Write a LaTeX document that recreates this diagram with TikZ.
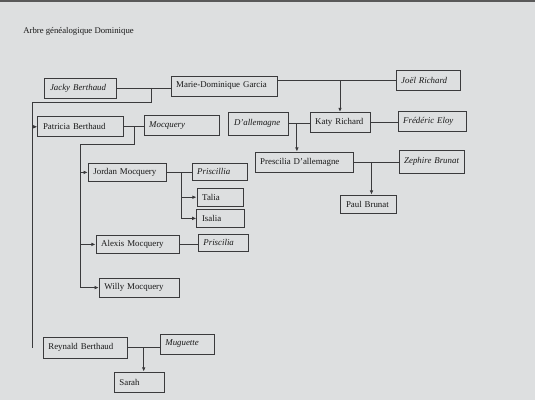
\documentclass[tikz,border=0pt]{standalone}
\usepackage{fontspec}
\setmainfont{Liberation Serif}
\usetikzlibrary{arrows.meta,calc}
\definecolor{paper}{RGB}{221,223,224}
\definecolor{ink}{RGB}{58,58,60}

\begin{document}
\begin{tikzpicture}[
    person/.style={draw=ink, line width=0.6pt, minimum height=0.5cm, inner xsep=0.13cm, inner ysep=0pt, text width=#1, align=left, font=\fontsize{6.3}{7.5}\selectfont, text=black!90},
    spouse/.style={person=#1, font=\fontsize{6.3}{7.5}\selectfont\itshape},
    link/.style={draw=ink, line width=0.6pt},
    arr/.style={link, -{Latex[length=3pt,width=2.6pt]}}
]
\useasboundingbox (0,0) rectangle (13.375,-10);
\fill[paper] (0,0) rectangle (13.375,-10);
\fill[black!65] (0,0) rectangle (13.375,-0.06);

\node[anchor=west, font=\fontsize{6.2}{7.5}\selectfont, text=black!90] (title) at (0.46,-0.78) {Arbre généalogique Dominique};

\node[spouse=1.52cm] (jacky) at (2.01,-2.2) {Jacky Berthaud};
\node[person=2.39cm] (marie) at (5.6,-2.15) {Marie-Dominique Garcia};
\node[spouse=1.34cm] (joel) at (10.7,-2.02) {Joël Richard};
\node[person=1.87cm] (patricia) at (2.01,-3.17) {Patricia Berthaud};
\node[spouse=1.62cm] (mocquery) at (4.54,-3.14) {Mocquery};
\node[spouse=1.22cm, minimum height=0.57cm] (dallemagne) at (6.46,-3.09) {D’allemagne};
\node[person=1.24cm] (katy) at (8.5,-3.06) {Katy Richard};
\node[spouse=1.44cm] (frederic) at (10.8,-3.04) {Frédéric Eloy};
\node[person=2.19cm] (prescilia) at (7.6,-4.05) {Prescilia D’allemagne};
\node[spouse=1.37cm, minimum height=0.57cm] (zephire) at (10.79,-4.04) {Zephire Brunat};
\node[person=1.14cm, minimum height=0.45cm] (paul) at (9.22,-5.1) {Paul Brunat};
\node[person=1.69cm, minimum height=0.47cm] (jordan) at (3.18,-4.31) {Jordan Mocquery};
\node[spouse=1.12cm, minimum height=0.43cm] (priscillia) at (5.49,-4.29) {Priscillia};
\node[person=0.89cm, minimum height=0.45cm] (talia) at (5.5,-4.93) {Talia};
\node[person=0.92cm, minimum height=0.47cm] (isalia) at (5.51,-5.46) {Isalia};
\node[person=1.82cm, minimum height=0.43cm] (alexis) at (3.44,-6.11) {Alexis Mocquery};
\node[spouse=0.99cm, minimum height=0.43cm] (priscilia) at (5.58,-6.07) {Priscilia};
\node[person=1.74cm, minimum height=0.47cm] (willy) at (3.48,-7.19) {Willy Mocquery};
\node[person=1.84cm, minimum height=0.52cm] (reynald) at (2.13,-8.69) {Reynald Berthaud};
\node[spouse=1.09cm] (muguette) at (4.68,-8.6) {Muguette};
\node[person=0.99cm, minimum height=0.52cm] (sarah) at (3.48,-9.56) {Sarah};

\coordinate (jm) at ($(jacky.east)!0.64!(jacky -| marie.west)$);
\coordinate (trunk) at (0.8,-2.55);
\coordinate (trunkend) at (0.8,-8.7);
\draw[link] (jacky) -- (jacky -| marie.west);
\draw[link] (jm) |- (trunk) -- (trunkend);
\draw[arr] (trunk |- patricia) -- (patricia);

\draw[link] (marie.east |- joel) -- (joel);
\draw[arr] (katy |- joel) -- (katy);
\draw[link] (dallemagne) -- (dallemagne -| katy.west);
\coordinate (dk) at ($(dallemagne.east)!0.4!(dallemagne -| katy.west)$);
\draw[arr] (dk) -- (dk |- prescilia.north);
\draw[link] (katy) -- (katy -| frederic.west);
\draw[link] (prescilia) -- (prescilia -| zephire.west);
\coordinate (pz) at ($(prescilia.east)!0.4!(prescilia -| zephire.west)$);
\draw[arr] (pz) -- (pz |- paul.north);

\draw[link] (patricia) -- (patricia -| mocquery.west);
\coordinate (pm) at ($(patricia.east)!0.55!(patricia -| mocquery.west)$);
\coordinate (branch) at (2.0,-3.62);
\draw[link] (pm) |- (branch) -- (branch |- willy);
\foreach \child in {jordan,alexis,willy}
    \draw[arr] (branch |- \child) -- (\child);

\draw[link] (jordan) -- (jordan -| priscillia.west);
\coordinate (jp) at ($(jordan.east)!0.58!(jordan -| priscillia.west)$);
\draw[link] (jp) -- (jp |- isalia);
\foreach \child in {talia,isalia}
    \draw[arr] (jp |- \child) -- (\child);
\draw[link] (alexis) -- (alexis -| priscilia.west);

\draw[link] (reynald) -- (reynald -| muguette.west);
\coordinate (rm) at ($(reynald.east)!0.5!(reynald -| muguette.west)$);
\draw[arr] (rm) -- (rm |- sarah.north);
\end{tikzpicture}
\end{document}
